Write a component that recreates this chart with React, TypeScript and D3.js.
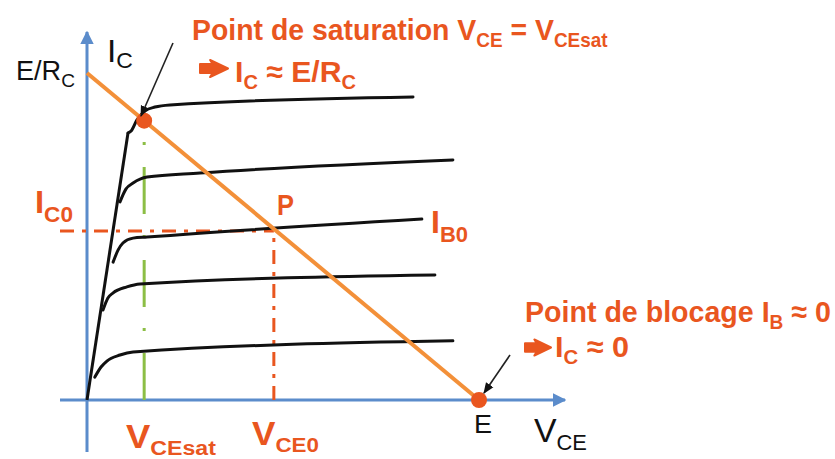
import React, { useLayoutEffect, useRef, useState } from "react";
import * as d3 from "d3";

// Supply voltage E (V) and saturation current E/Rc (mA)
const E_SUPPLY = 12;
const IC_MAX = 12;
const VCE_SAT = 1.75;
const POINT_P = { vce: 5.72, ic: 6.2 };

// Ohmic region boundary (from origin up to the highest IB curve)
const saturationEdge: [number, number][] = [
  [0, 0],
  [1.255, 9.8],
];

// Output characteristics IC = f(VCE) for increasing base currents
const curveIB1: [number, number][] = [
  [0.24, 0.84], [0.43, 1.21], [0.61, 1.43], [1.01, 1.65], [1.41, 1.76], [11.2, 2.17],
];
const curveIB2: [number, number][] = [
  [0.49, 3.3], [0.64, 3.74], [0.8, 3.93], [1.22, 4.15], [1.62, 4.26], [10.65, 4.59],
];
const curveIB0: [number, number][] = [
  [0.8, 5.06], [0.95, 5.5], [1.1, 5.76], [1.41, 5.94], [1.84, 5.98], [10.25, 6.64],
];
const curveIB3: [number, number][] = [
  [1.01, 7.27], [1.19, 7.74], [1.41, 7.96], [1.84, 8.18], [3.46, 8.33], [11.2, 8.81],
];
const curveIB4: [number, number][] = [
  [1.255, 9.8], [1.35, 9.87], [1.53, 10.28], [1.78, 10.61], [2.08, 10.75], [2.54, 10.83], [9.98, 11.12],
];
const characteristics = [curveIB1, curveIB2, curveIB0, curveIB3, curveIB4];

// Load line from (0, E/Rc) to (E, 0)
const loadLine: [number, number][] = [
  [0, IC_MAX],
  [E_SUPPLY, 0],
];

const ORANGE = "#F39039";
const RED = "#E9561F";
const BLUE = "#5B8CCB";
const GREEN = "#8CBE45";
const FONT = "'Liberation Sans Narrow', 'Liberation Sans', Arial, sans-serif";

const x = d3.scaleLinear().domain([0, E_SUPPLY]).range([87, 479]);
const y = d3.scaleLinear().domain([0, IC_MAX]).range([400, 73]);

const lineGen = d3
  .line<[number, number]>()
  .x((d) => x(d[0]))
  .y((d) => y(d[1]))
  .curve(d3.curveMonotoneX);
const straight = d3
  .line<[number, number]>()
  .x((d) => x(d[0]))
  .y((d) => y(d[1]));

// Text condensed horizontally so that it spans the given width
function FitText({
  x: tx,
  y: ty,
  width,
  children,
  ...rest
}: {
  x: number;
  y: number;
  width: number;
  children: React.ReactNode;
  [key: string]: any;
}) {
  const ref = useRef<SVGTextElement>(null);
  const [k, setK] = useState(1);
  useLayoutEffect(() => {
    if (!ref.current) return;
    const w = ref.current.getBBox().width;
    if (w > 0) setK(width / w);
  }, [width]);
  return (
    <text
      ref={ref}
      x={tx}
      y={ty}
      transform={`translate(${tx},0) scale(${k},1) translate(${-tx},0)`}
      {...rest}
    >
      {children}
    </text>
  );
}

function BlockArrow({ x0, cy, w, h }: { x0: number; cy: number; w: number; h: number }) {
  const hh = h / 2;
  const sh = h * 0.26;
  const d = `M${x0},${cy - sh} L${x0 + w * 0.45},${cy - sh} L${x0 + w * 0.36},${cy - hh} L${x0 + w},${cy} L${x0 + w * 0.36},${cy + hh} L${x0 + w * 0.45},${cy + sh} L${x0},${cy + sh} Z`;
  return <path d={d} fill={RED} stroke={RED} strokeWidth={2} strokeLinejoin="round" />;
}

export default function App() {
  const pX = x(POINT_P.vce);
  const pY = y(POINT_P.ic);
  const satPt = { x: x(VCE_SAT), y: y(IC_MAX - VCE_SAT * (IC_MAX / E_SUPPLY)) };
  const cutPt = { x: x(E_SUPPLY), y: y(0) };

  return (
    <svg
      width={835}
      height={459}
      style={{ position: "fixed", left: 0, top: 0, background: "#fff" }}
      fontFamily={FONT}
    >
      <defs>
        <marker id="headBlue" viewBox="0 0 10 10" refX="9" refY="5" markerWidth="4.5" markerHeight="4.5" orient="auto">
          <path d="M0,0 L10,5 L0,10 Z" fill={BLUE} />
        </marker>
        <marker id="headBlack" viewBox="0 0 10 10" refX="9" refY="5" markerWidth="7" markerHeight="7" orient="auto">
          <path d="M0,1 L10,5 L0,9 Z" fill="#111" />
        </marker>
      </defs>

      {/* axes */}
      <line x1={x(0)} y1={452} x2={x(0)} y2={32} stroke={BLUE} strokeWidth={3} markerEnd="url(#headBlue)" />
      <line x1={60} y1={y(0)} x2={565} y2={y(0)} stroke={BLUE} strokeWidth={3} markerEnd="url(#headBlue)" />

      {/* quiescent point guides */}
      <line x1={60} y1={pY} x2={pX} y2={pY} stroke={RED} strokeWidth={3} strokeDasharray="14 8 4 8" />
      <line x1={pX} y1={y(0)} x2={pX} y2={pY} stroke={RED} strokeWidth={3} strokeDasharray="14 8 4 8" />

      {/* VCEsat guide */}
      <line x1={x(VCE_SAT)} y1={y(0)} x2={x(VCE_SAT)} y2={142} stroke={GREEN} strokeWidth={3} strokeDasharray="47 22 3 21" />

      {/* characteristics */}
      <path d={straight(saturationEdge) ?? ""} fill="none" stroke="#111" strokeWidth={3} />
      {characteristics.map((c, i) => (
        <path key={i} d={lineGen(c) ?? ""} fill="none" stroke="#111" strokeWidth={3} strokeLinecap="round" />
      ))}

      {/* load line */}
      <path d={straight(loadLine) ?? ""} fill="none" stroke={ORANGE} strokeWidth={4} />

      {/* saturation and cut-off points */}
      <circle cx={satPt.x} cy={satPt.y} r={8} fill={RED} />
      <circle cx={cutPt.x} cy={cutPt.y} r={8} fill={RED} />

      {/* pointer arrows */}
      <line x1={173} y1={43} x2={141} y2={116} stroke="#222" strokeWidth={1.6} markerEnd="url(#headBlack)" />
      <line x1={510} y1={355} x2={484} y2={393} stroke="#222" strokeWidth={1.6} markerEnd="url(#headBlack)" />

      {/* axis labels */}
      <FitText x={16} y={80} width={59} fontSize={27} fill="#111">
        E/R<tspan fontSize={19} dy={7}>C</tspan>
      </FitText>
      <FitText x={107} y={62} width={26} fontSize={32} fill="#111">
        I<tspan fontSize={22} dy={6}>C</tspan>
      </FitText>
      <FitText x={474} y={433} width={18} fontSize={26} fill="#111">
        E
      </FitText>
      <FitText x={534} y={442} width={53} fontSize={34} fill="#111">
        V<tspan fontSize={22} dy={8}>CE</tspan>
      </FitText>

      {/* operating point labels */}
      <g fontWeight="bold" fill={RED}>
        <FitText x={35} y={213} width={38} fontSize={32}>
          I<tspan fontSize={22} dy={9}>C0</tspan>
        </FitText>
        <FitText x={277} y={215} width={17} fontSize={30}>
          P
        </FitText>
        <FitText x={431} y={233} width={37} fontSize={32}>
          I<tspan fontSize={22} dy={9}>B0</tspan>
        </FitText>
        <FitText x={126} y={448} width={90} fontSize={33}>
          V<tspan fontSize={21} dy={7}>CEsat</tspan>
        </FitText>
        <FitText x={252} y={445} width={67} fontSize={33}>
          V<tspan fontSize={21} dy={7}>CE0</tspan>
        </FitText>

        {/* saturation annotation */}
        <FitText x={192} y={40} width={416} fontSize={30}>
          Point de saturation V<tspan fontSize={20} dy={7}>CE</tspan>
          <tspan dy={-7}> = V</tspan>
          <tspan fontSize={20} dy={7}>CEsat</tspan>
        </FitText>
        <FitText x={235} y={82} width={121} fontSize={30}>
          I<tspan fontSize={20} dy={7}>C</tspan>
          <tspan dy={-7}> ≈ E/R</tspan>
          <tspan fontSize={20} dy={7}>C</tspan>
        </FitText>

        {/* cut-off annotation */}
        <FitText x={525} y={322} width={306} fontSize={30}>
          Point de blocage I<tspan fontSize={20} dy={7}>B</tspan>
          <tspan dy={-7}> ≈ 0</tspan>
        </FitText>
        <FitText x={555} y={357} width={74} fontSize={30}>
          I<tspan fontSize={20} dy={7}>C</tspan>
          <tspan dy={-7}> ≈ 0</tspan>
        </FitText>
      </g>
      <BlockArrow x0={200} cy={68.5} w={28} h={17} />
      <BlockArrow x0={525} cy={347.5} w={26} h={16} />
    </svg>
  );
}
